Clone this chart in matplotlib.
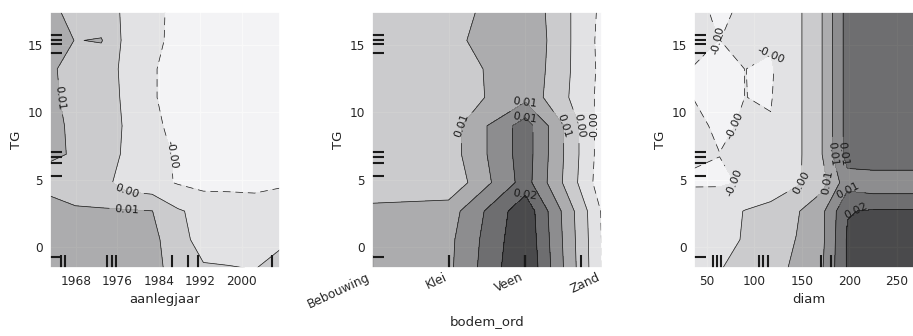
import numpy as np
import matplotlib
matplotlib.use("Agg")
import matplotlib.pyplot as plt
import seaborn as sns

# ------------------------------------------------------------------ data
TG_GRID = [-1.56, 0.55, 2.66, 4.78, 6.89, 9.00, 11.11, 13.22, 15.34, 17.45]
TG_DECILES = [-0.72, 5.30, 6.22, 6.69, 7.08, 14.40, 15.07, 15.37, 15.74]
TG_TICKS = [0, 5, 10, 15]

AANLEGJAAR_GRID = [1963.0, 1967.9, 1972.9, 1977.8, 1982.7, 1987.7, 1992.6, 1997.5, 2002.5, 2007.4]
AANLEGJAAR_DECILES = [1965.1, 1965.9, 1974.0, 1975.0, 1975.7, 1986.5, 1989.6, 1991.5, 2005.8]
AANLEGJAAR_TICKS = [1968, 1976, 1984, 1992, 2000]
# rows follow TG_GRID, columns follow AANLEGJAAR_GRID
PD_AANLEGJAAR = [
    [0.0080, 0.0080, 0.0080, 0.0078, 0.0074, 0.00416, 0.00232, 0.0022, 0.00188, 0.0032],
    [0.0080, 0.0076, 0.0076, 0.0074, 0.0072, 0.00328, 0.00068, 0.0000, 0.0000, 0.00134],
    [0.0080, 0.00628, 0.00632, 0.0064, 0.00608, 0.00242, 0.00082, 0.0014, 0.00076, 0.0014],
    [0.00424, 0.0048, 0.0036, 0.0000, -0.0008, -0.00228, -0.0032, -0.0036, -0.0036, -0.0028],
    [0.00664, 0.00564, 0.0038, 0.0014, -0.0008, -0.0024, -0.0044, -0.0048, -0.0048, -0.0040],
    [0.0076, 0.0048, 0.0038, 0.0016, -0.0008, -0.0036, -0.0048, -0.0052, -0.0052, -0.0048],
    [0.0072, 0.0040, 0.0036, 0.0014, -0.00152, -0.0040, -0.0048, -0.0052, -0.0060, -0.0048],
    [0.0068, 0.0040, 0.0036, 0.0012, -0.00152, -0.0040, -0.0048, -0.0052, -0.0052, -0.0048],
    [0.0080, 0.00588, 0.00624, 0.0008, -0.0006, -0.0036, -0.0044, -0.0048, -0.0048, -0.0044],
    [0.0072, 0.0044, 0.0036, 0.0014, -0.0004, -0.0036, -0.0040, -0.0044, -0.0044, -0.0040],
]

BODEM_GRID = [0, 1, 2, 3]
BODEM_LABELS = ["Bebouwing", "Klei", "Veen", "Zand"]
BODEM_DECILES = [0, 0, 1, 1, 2, 2, 2, 2, 2.72]
PD_BODEM = [
    [0.0084, 0.0092, 0.0220, -0.00212],
    [0.0082, 0.0090, 0.0214, -0.0022],
    [0.0066, 0.00808, 0.02088, -0.0024],
    [0.00444, 0.00276, 0.01572, -0.0044],
    [0.0040, 0.0040, 0.0160, -0.0040],
    [0.0040, 0.0040, 0.0160, -0.0040],
    [0.0040, 0.00352, 0.0088, -0.0032],
    [0.0040, 0.0034, 0.0092, -0.0030],
    [0.0040, 0.00488, 0.0096, -0.0032],
    [0.0040, 0.00432, 0.00912, -0.00288],
]

DIAM_GRID = [36.6, 63.5, 90.4, 117.3, 144.2, 171.1, 198.0, 224.9, 251.8, 278.7]
DIAM_DECILES = [56.3, 60.5, 64.7, 105.0, 109.6, 114.8, 170.0, 180.5, 272.0]
DIAM_TICKS = [50, 100, 150, 200, 250]
PD_DIAM = [
    [0.0016, 0.0016, 0.00468, 0.0044, 0.00676, 0.00956, 0.01836, 0.0204, 0.0204, 0.0204],
    [0.0008, 0.0004, 0.0024, 0.0040, 0.00608, 0.0090, 0.0184, 0.0200, 0.0200, 0.0200],
    [0.0002, 0.0004, 0.00216, 0.0026, 0.00552, 0.0090, 0.0178, 0.0184, 0.0184, 0.0184],
    [-0.0024, -0.0024, -0.00172, 0.0008, 0.0014, 0.0044, 0.0124, 0.0112, 0.0112, 0.0112],
    [-0.0016, -0.00196, -0.0012, -0.0008, 0.00088, 0.00588, 0.0156, 0.0176, 0.0176, 0.0176],
    [-0.0012, -0.0026, -0.0016, -0.0018, 0.00088, 0.00588, 0.0156, 0.0168, 0.0168, 0.0168],
    [-0.00208, -0.0030, -0.00198, -0.0022, 0.00088, 0.00588, 0.0156, 0.0168, 0.0168, 0.0168],
    [-0.00212, -0.0028, -0.00198, -0.0024, 0.00088, 0.00588, 0.0156, 0.0168, 0.0168, 0.0168],
    [-0.0012, -0.00204, -0.0008, -0.0016, 0.00088, 0.00588, 0.0156, 0.0168, 0.0168, 0.0168],
    [-0.0008, -0.0028, -0.0012, -0.0004, 0.00088, 0.00588, 0.0156, 0.0168, 0.0168, 0.0168],
]

# ------------------------------------------------------------------ style
sns.set_theme(style="darkgrid")
plt.rcParams.update({
    "font.family": ["DejaVu Sans"],
    "xtick.labelsize": 8.7,
    "ytick.labelsize": 8.7,
    "axes.labelsize": 9.5,
    "xtick.major.size": 0,
    "ytick.major.size": 0,
    "xtick.major.pad": 5.0,
    "ytick.major.pad": 5.0,
    "axes.labelpad": 3.5,
    "grid.linewidth": 0.8,
})

all_z = np.concatenate([np.ravel(PD_AANLEGJAAR), np.ravel(PD_BODEM), np.ravel(PD_DIAM)])
levels = np.linspace(all_z.min(), all_z.max(), 8)

fig = plt.figure(figsize=(9.13, 3.36), dpi=100)
W, H = 913.0, 336.0
ax_w, ax_h = 230 / W, 256 / H
bottom = (H - 268) / H
lefts = [50 / W, 372 / W, 694 / W]


def draw(ax, xgrid, z, xdec):
    XX, YY = np.meshgrid(xgrid, TG_GRID)
    Z = np.array(z)
    cs = ax.contour(XX, YY, Z, levels=levels, linewidths=0.5, colors="k",
                    negative_linestyles=(0, (11, 7)))
    ax.contourf(XX, YY, Z, levels=levels, vmin=levels[0], vmax=levels[-1],
                cmap="Greys", alpha=0.75)
    ax.clabel(cs, fmt="%2.2f", colors="k", fontsize=8, inline=True)
    ax.vlines(xdec, 0, 0.05, transform=ax.get_xaxis_transform(), color="k", linewidth=1.5)
    ax.hlines(TG_DECILES, 0, 0.05, transform=ax.get_yaxis_transform(), color="k", linewidth=1.5)
    ax.set_xlim(xgrid[0], xgrid[-1])
    ax.set_ylim(TG_GRID[0], TG_GRID[-1])
    ax.set_yticks(TG_TICKS)
    ax.set_ylabel("TG")


ax1 = fig.add_axes([lefts[0], bottom, ax_w, ax_h])
draw(ax1, AANLEGJAAR_GRID, PD_AANLEGJAAR, AANLEGJAAR_DECILES)
ax1.set_xticks(AANLEGJAAR_TICKS)
ax1.set_xlabel("aanlegjaar")

ax2 = fig.add_axes([lefts[1], bottom, ax_w, ax_h])
draw(ax2, BODEM_GRID, PD_BODEM, BODEM_DECILES)
ax2.set_xticks(BODEM_GRID)
ax2.set_xticklabels(BODEM_LABELS, rotation=25, ha="right")
ax2.tick_params(axis="x", pad=2)
ax2.set_xlabel("bodem_ord", labelpad=3)

ax3 = fig.add_axes([lefts[2], bottom, ax_w, ax_h])
draw(ax3, DIAM_GRID, PD_DIAM, DIAM_DECILES)
ax3.set_xticks(DIAM_TICKS)
ax3.set_xlabel("diam")

fig.savefig("out.png", dpi=100)
